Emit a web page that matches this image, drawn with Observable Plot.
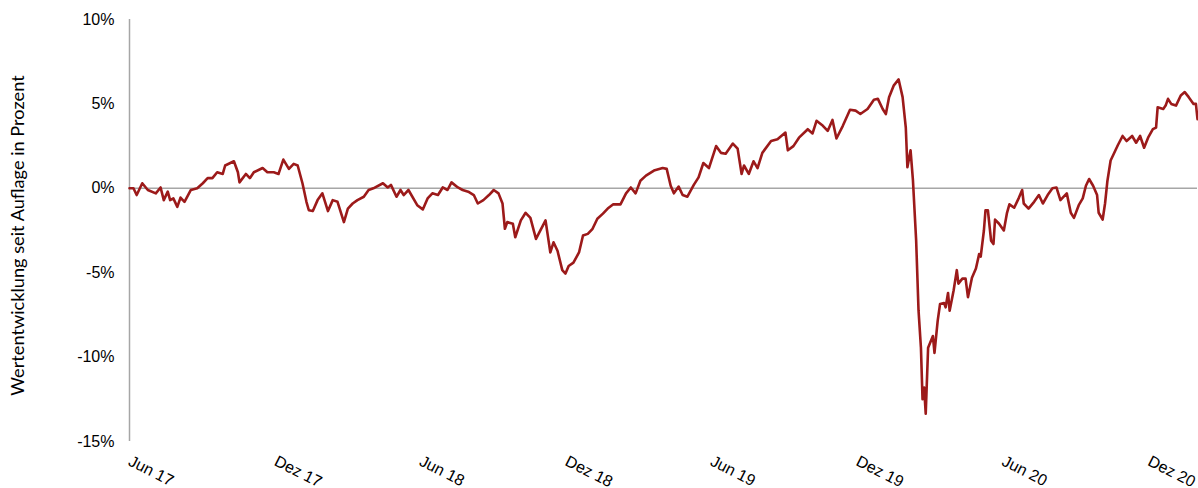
<!DOCTYPE html>
<html>
<head>
<meta charset="utf-8">
<script src="https://cdn.jsdelivr.net/npm/d3@7"></script>
<script src="https://cdn.jsdelivr.net/npm/@observablehq/plot@0.6"></script>
<style>
  html, body { margin: 0; padding: 0; background: #fff; }
  #chart { width: 1198px; height: 488px; }
</style>
</head>
<body>
<div id="chart"></div>
<script>
// Fund launch (start of series)
const launch = "2017-06-01";
const lastDay = "2021-01-31";

// Days since launch for each observation
const days = [0,5,9,16,23,33,39,43,48,51,55,60,64,69,77,85,92,98,104,110,117,120,131,136,138,146,151,156,167,173,181,187,193,200,206,211,217,222,225,230,236,242,249,255,261,269,274,280,286,294,300,306,318,324,328,335,340,344,350,361,368,374,380,387,393,399,404,412,418,425,432,437,444,451,457,463,468,471,474,481,484,491,497,503,510,522,528,532,537,543,547,551,557,564,569,575,581,587,594,600,607,616,623,629,635,641,648,658,669,674,679,683,689,694,700,708,714,720,727,736,742,748,757,763,768,771,777,783,788,794,805,813,823,826,833,840,851,857,862,870,876,882,887,895,904,911,917,926,934,939,945,949,953,959,965,970,974,976,980,983,987,990,993,995,997,999,1002,1008,1010,1014,1017,1022,1024,1027,1029,1034,1038,1040,1045,1049,1052,1057,1062,1066,1068,1072,1074,1077,1081,1084,1086,1091,1097,1101,1104,1110,1116,1120,1122,1128,1135,1141,1146,1152,1158,1163,1168,1176,1181,1185,1191,1196,1200,1204,1209,1214,1216,1221,1224,1227,1231,1235,1240,1246,1251,1258,1263,1268,1273,1278,1284,1288,1290,1297,1300,1303,1307,1313,1319,1324,1329,1335,1338,1340];

// Performance since launch, percent
const perf = [0,0,-0.4,0.3,-0.1,-0.3,0.05,-0.7,-0.2,-0.7,-0.6,-1.1,-0.55,-0.8,-0.1,0,0.3,0.6,0.6,0.95,0.85,1.35,1.6,0.95,0.35,0.85,0.6,0.95,1.2,0.95,0.95,0.85,1.7,1.15,1.45,1.35,0.3,-0.8,-1.3,-1.35,-0.7,-0.3,-1.35,-0.7,-0.8,-2.0,-1.2,-0.9,-0.7,-0.5,-0.1,0,0.3,0.05,0.2,-0.5,-0.1,-0.4,-0.1,-1.0,-1.25,-0.6,-0.3,-0.4,0.05,-0.1,0.35,0.05,-0.1,-0.2,-0.4,-0.9,-0.7,-0.4,-0.1,-0.3,-0.9,-2.4,-2.0,-2.1,-2.9,-1.9,-1.45,-1.75,-3.0,-1.9,-3.8,-3.2,-3.7,-4.85,-5.05,-4.6,-4.4,-3.8,-2.8,-2.7,-2.4,-1.8,-1.5,-1.2,-0.95,-0.95,-0.3,0.05,-0.3,0.45,0.75,1.05,1.2,1.15,0.15,-0.3,0.1,-0.4,-0.5,0.2,0.65,1.5,1.2,2.5,2.1,2.05,2.65,2.35,0.85,1.35,0.85,1.6,1.2,2.1,2.8,2.9,3.3,2.25,2.5,3.0,3.5,3.25,4.0,3.7,3.4,4.05,2.95,3.7,4.65,4.6,4.4,4.7,5.25,5.3,4.7,4.4,5.4,6.1,6.45,5.4,3.6,1.25,2.25,0.45,-3.1,-7.25,-9.45,-12.5,-11.8,-13.35,-9.45,-8.75,-9.75,-7.85,-6.85,-6.8,-7.05,-6.2,-7.25,-6.05,-4.85,-5.65,-5.35,-5.35,-6.45,-5.3,-4.75,-3.9,-4.05,-2.5,-1.3,-1.3,-3.1,-3.3,-1.85,-2.1,-2.5,-1.45,-0.95,-1.15,-0.55,-0.1,-0.9,-1.2,-0.8,-0.4,-0.9,-0.4,0,0.05,-0.7,-0.3,-1.45,-1.75,-1.0,-0.6,0.15,0.55,0.15,-0.4,-1.45,-1.85,-0.9,0.45,1.65,2.05,2.55,3.1,2.8,3.1,2.7,3.1,2.4,3.0,3.5,3.6,4.8,4.7,4.9,5.3,5.0,4.9,5.5,5.7,5.4,5.0,5.0,4.1];

// Axis ticks
const xTickDates = ["2017-06-01","2017-12-01","2018-06-01","2018-12-01","2019-06-01","2019-12-01","2020-06-01","2020-12-01"];
const xTickLabels = ["Jun 17","Dez 17","Jun 18","Dez 18","Jun 19","Dez 19","Jun 20","Dez 20"];
const yTicks = [-15, -10, -5, 0, 5, 10];
const yLabel = "Wertentwicklung seit Auflage in Prozent";

const start = new Date(launch + "T00:00:00Z");
const data = days.map((d, i) => ({date: d3.utcDay.offset(start, d), value: perf[i]}));
const ticks = xTickDates.map((s, i) => ({date: new Date(s + "T00:00:00Z"), label: xTickLabels[i]}));

const chart = Plot.plot({
  width: 1198,
  height: 488,
  marginLeft: 129,
  marginRight: 1,
  marginTop: 19,
  marginBottom: 47,
  style: {fontFamily: "'Liberation Sans', Arial, sans-serif", fontSize: "16px", color: "#000", background: "#fff", overflow: "visible"},
  x: {type: "utc", domain: [start, new Date(lastDay + "T00:00:00Z")], axis: null},
  y: {domain: [-15, 10], axis: null},
  marks: [
    Plot.axisY({ticks: yTicks, tickFormat: d => d + "%", tickSize: 0, tickPadding: 15, label: null, fontSize: 16}),
    Plot.ruleY([0], {stroke: "#a6a6a6", strokeWidth: 1.5}),
    Plot.ruleX([start], {stroke: "#a6a6a6", strokeWidth: 1.5}),
    Plot.line(data, {x: "date", y: "value", stroke: "#9c1a1a", strokeWidth: 2.6, strokeLinejoin: "round"}),
    Plot.text(ticks, {x: "date", text: "label", frameAnchor: "bottom", rotate: 27, textAnchor: "start", lineAnchor: "top", dy: 13, dx: 3, fontSize: 16, fill: "#000"}),
    Plot.text([yLabel], {frameAnchor: "left", dx: -111, dy: 5, rotate: -90, textAnchor: "middle", lineAnchor: "middle", fontFamily: "Lato", fontSize: 18.2, fill: "#000"})
  ]
});
document.getElementById("chart").appendChild(chart);
</script>
</body>
</html>
